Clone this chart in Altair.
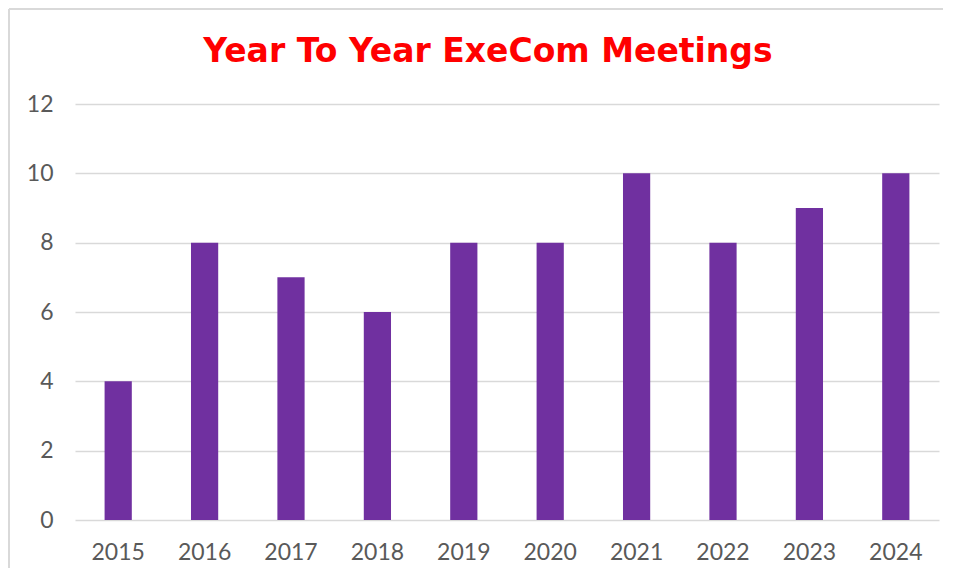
import altair as alt
import pandas as pd

years = ["2015", "2016", "2017", "2018", "2019", "2020", "2021", "2022", "2023", "2024"]
meetings = [4, 8, 7, 6, 8, 8, 10, 8, 9, 10]
title_text = ["Year To Year ExeCom Meetings"]

df = pd.DataFrame({"Year": years, "Meetings": meetings})

W, H = 864, 416

bars = alt.Chart(df).mark_bar(color="#7030A0").encode(
    x=alt.X("Year:N", sort=years, title=None,
            scale=alt.Scale(paddingInner=0.685, paddingOuter=0.3425),
            axis=alt.Axis(labelAngle=0, ticks=False, domain=False, grid=False,
                          labelFont="Lato", labelFontSize=23, labelColor="#595959",
                          labelPadding=21)),
    y=alt.Y("Meetings:Q", title=None,
            scale=alt.Scale(domain=[0, 12], nice=False),
            axis=alt.Axis(values=[0, 2, 4, 6, 8, 10, 12], ticks=False, domain=False,
                          grid=True, gridColor="#d9d9d9", gridWidth=1.5,
                          labelFont="Lato", labelFontSize=23, labelColor="#595959",
                          labelPadding=22)),
)

frame = pd.DataFrame({"k": [0]})
top_edge = alt.Chart(frame).mark_rule(stroke="#d9d9d9", strokeWidth=2).encode(
    x=alt.value(-66), x2=alt.value(W + 80), y=alt.value(-95)
)
left_edge = alt.Chart(frame).mark_rule(stroke="#d9d9d9", strokeWidth=2).encode(
    x=alt.value(-66), y=alt.value(-95), y2=alt.value(H + 80)
)

title = alt.Chart(pd.DataFrame({"t": title_text})).mark_text(
    font="DejaVu Sans", fontSize=33, fontWeight="bold", color="#ff0000",
    align="center", baseline="alphabetic"
).encode(text="t:N", x=alt.value(413), y=alt.value(-42))

chart = alt.layer(top_edge, left_edge, bars, title).properties(
    width=W, height=H,
    autosize=alt.AutoSizeParams(type="none"),
    padding={"left": 67, "top": 96, "right": 4, "bottom": 48},
).configure_view(stroke=None)

chart.save("out.html", embed_options={"renderer": "svg", "actions": False})
